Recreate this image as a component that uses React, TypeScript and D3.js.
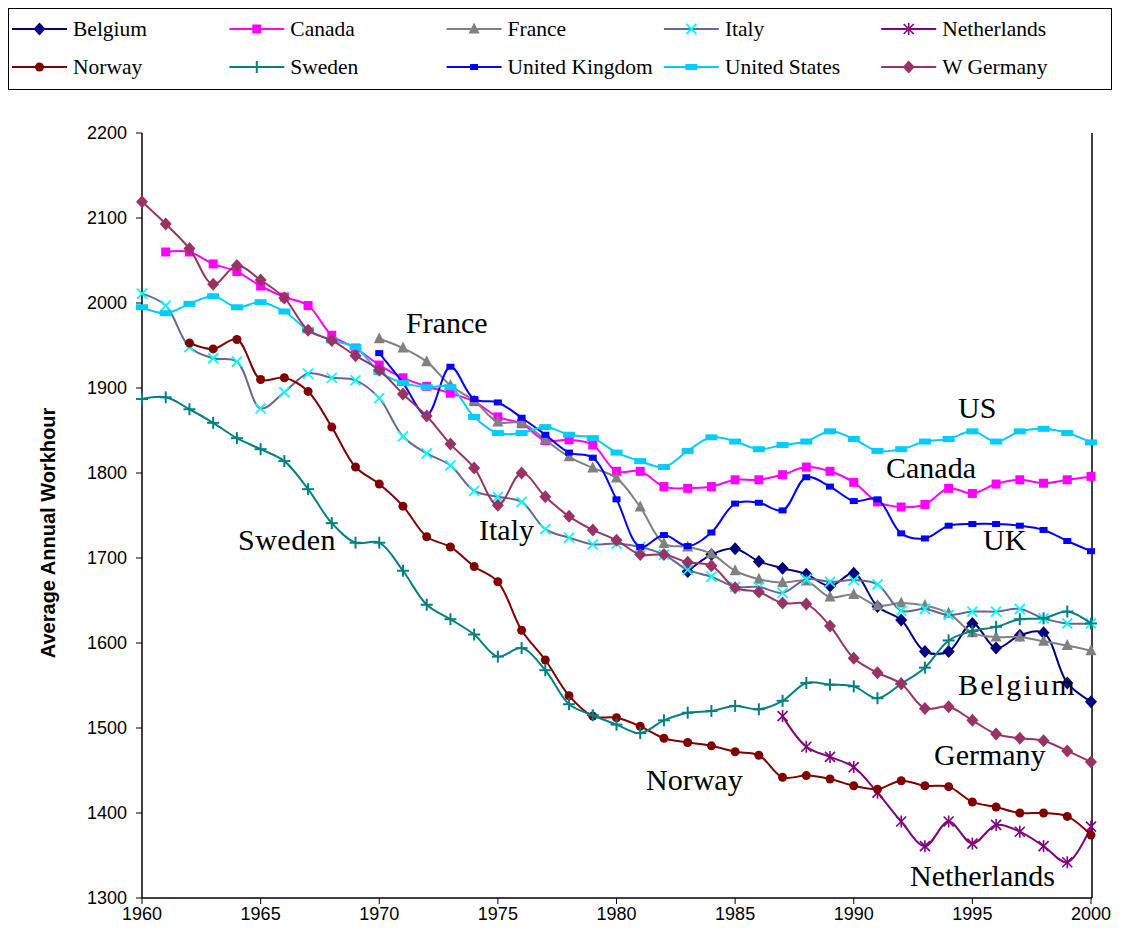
import React from "react";
import * as d3 from "d3";

const xTicks: number[] = [1960, 1965, 1970, 1975, 1980, 1985, 1990, 1995, 2000];
const yTicks: number[] = [1300, 1400, 1500, 1600, 1700, 1800, 1900, 2000, 2100, 2200];

const belgiumStart = 1983;
const belgium = [1684, 1704, 1711, 1696, 1688, 1681, 1667, 1682, 1643, 1627, 1590, 1590, 1623, 1594, 1609, 1612, 1553, 1531];
const canadaStart = 1961;
const canada = [2060, 2060, 2046, 2037, 2020, 2007, 1997, 1962, 1947, 1927, 1912, 1902, 1894, 1884, 1866, 1858, 1838, 1839, 1833, 1802, 1802, 1784, 1782, 1784, 1792, 1792, 1798, 1807, 1802, 1789, 1766, 1760, 1763, 1782, 1776, 1787, 1792, 1788, 1792, 1796];
const franceStart = 1970;
const france = [1958, 1947, 1931, 1903, 1885, 1860, 1859, 1839, 1819, 1806, 1794, 1760, 1717, 1713, 1705, 1685, 1675, 1671, 1673, 1654, 1657, 1644, 1647, 1644, 1635, 1612, 1607, 1607, 1602, 1597, 1591];
const italyStart = 1960;
const italy = [2011, 1997, 1948, 1935, 1931, 1876, 1895, 1917, 1912, 1909, 1888, 1843, 1823, 1809, 1779, 1772, 1766, 1734, 1724, 1716, 1717, 1713, 1704, 1686, 1678, 1666, 1666, 1659, 1675, 1672, 1674, 1669, 1638, 1640, 1633, 1637, 1637, 1640, 1629, 1623, 1623];
const netherlandsStart = 1987;
const netherlands = [1514, 1478, 1466, 1454, 1424, 1390, 1361, 1390, 1364, 1386, 1378, 1361, 1342, 1384];
const norwayStart = 1962;
const norway = [1953, 1946, 1957, 1910, 1912, 1896, 1854, 1807, 1787, 1761, 1725, 1713, 1690, 1672, 1615, 1580, 1538, 1514, 1512, 1502, 1488, 1483, 1479, 1472, 1468, 1442, 1444, 1440, 1432, 1428, 1438, 1432, 1431, 1413, 1407, 1400, 1400, 1396, 1374];
const swedenStart = 1960;
const sweden = [1887, 1889, 1875, 1859, 1841, 1828, 1814, 1781, 1741, 1718, 1718, 1685, 1645, 1628, 1610, 1584, 1594, 1568, 1528, 1515, 1504, 1494, 1509, 1518, 1520, 1526, 1522, 1532, 1553, 1551, 1549, 1535, 1552, 1571, 1603, 1614, 1619, 1628, 1629, 1637, 1623];
const ukStart = 1970;
const uk = [1941, 1906, 1868, 1925, 1887, 1883, 1865, 1845, 1824, 1818, 1769, 1713, 1727, 1714, 1730, 1764, 1765, 1756, 1795, 1784, 1767, 1769, 1729, 1723, 1738, 1740, 1740, 1738, 1733, 1720, 1708];
const usStart = 1960;
const us = [1995, 1988, 1999, 2008, 1995, 2001, 1990, 1968, 1956, 1948, 1919, 1906, 1901, 1901, 1866, 1847, 1847, 1854, 1845, 1841, 1824, 1814, 1807, 1826, 1842, 1837, 1828, 1833, 1837, 1849, 1840, 1826, 1828, 1837, 1840, 1849, 1837, 1849, 1852, 1847, 1836];
const wGermanyStart = 1960;
const wGermany = [2119, 2093, 2064, 2022, 2044, 2027, 2006, 1968, 1956, 1938, 1921, 1893, 1867, 1834, 1806, 1762, 1800, 1772, 1749, 1733, 1721, 1704, 1704, 1695, 1691, 1665, 1660, 1647, 1646, 1620, 1582, 1565, 1552, 1523, 1525, 1509, 1493, 1488, 1485, 1473, 1460];

type Series = { name: string; start: number; values: number[]; line: string; mark: string; shape: string };

const series: Series[] = [
  { name: "Belgium", start: belgiumStart, values: belgium, line: "#000080", mark: "#000080", shape: "diamond" },
  { name: "Canada", start: canadaStart, values: canada, line: "#FF00FF", mark: "#FF00FF", shape: "square" },
  { name: "France", start: franceStart, values: france, line: "#808080", mark: "#808080", shape: "triangle" },
  { name: "Italy", start: italyStart, values: italy, line: "#666699", mark: "#00FFFF", shape: "x" },
  { name: "Netherlands", start: netherlandsStart, values: netherlands, line: "#800080", mark: "#800080", shape: "star" },
  { name: "Norway", start: norwayStart, values: norway, line: "#800000", mark: "#800000", shape: "circle" },
  { name: "Sweden", start: swedenStart, values: sweden, line: "#008080", mark: "#008080", shape: "plus" },
  { name: "United Kingdom", start: ukStart, values: uk, line: "#0000FF", mark: "#0000FF", shape: "rectSmall" },
  { name: "United States", start: usStart, values: us, line: "#00CCFF", mark: "#00CCFF", shape: "rectWide" },
  { name: "W Germany", start: wGermanyStart, values: wGermany, line: "#993366", mark: "#993366", shape: "diamond" },
];

const labels = [
  { text: "France", x: 406, y: 333, ls: 0 },
  { text: "US", x: 958, y: 418, ls: 0 },
  { text: "Canada", x: 886, y: 478, ls: 0 },
  { text: "UK", x: 983, y: 550, ls: 0 },
  { text: "Sweden", x: 238, y: 550, ls: 0.5 },
  { text: "Italy", x: 479, y: 540, ls: 0 },
  { text: "Belgium", x: 958, y: 695, ls: 2.2 },
  { text: "Germany", x: 934, y: 765, ls: 0 },
  { text: "Norway", x: 646, y: 790, ls: 0 },
  { text: "Netherlands", x: 910, y: 886, ls: 0 },
];

function Marker({ shape, x, y, color }: { shape: string; x: number; y: number; color: string }) {
  switch (shape) {
    case "diamond":
      return <path d={`M${x},${y - 6.5}L${x + 6},${y}L${x},${y + 6.5}L${x - 6},${y}Z`} fill={color} />;
    case "square":
      return <rect x={x - 4.5} y={y - 4.5} width={9} height={9} fill={color} />;
    case "triangle":
      return <path d={`M${x},${y - 6.5}L${x + 5.5},${y + 4.5}L${x - 5.5},${y + 4.5}Z`} fill={color} />;
    case "x":
      return (
        <g stroke={color} strokeWidth={1.8}>
          <line x1={x - 5} y1={y - 5} x2={x + 5} y2={y + 5} />
          <line x1={x - 5} y1={y + 5} x2={x + 5} y2={y - 5} />
        </g>
      );
    case "star":
      return (
        <g stroke={color} strokeWidth={1.6}>
          <line x1={x - 5} y1={y - 5} x2={x + 5} y2={y + 5} />
          <line x1={x - 5} y1={y + 5} x2={x + 5} y2={y - 5} />
          <line x1={x} y1={y - 6} x2={x} y2={y + 6} />
        </g>
      );
    case "circle":
      return <circle cx={x} cy={y} r={4.5} fill={color} />;
    case "plus":
      return (
        <g stroke={color} strokeWidth={2}>
          <line x1={x - 6} y1={y} x2={x + 6} y2={y} />
          <line x1={x} y1={y - 6} x2={x} y2={y + 6} />
        </g>
      );
    case "rectSmall":
      return <rect x={x - 4} y={y - 3} width={8} height={6} fill={color} />;
    case "rectWide":
      return <rect x={x - 6} y={y - 3} width={12} height={6} fill={color} />;
    default:
      return null;
  }
}

export default function App() {
  const W = 1122, H = 943;
  const x = d3.scaleLinear().domain([1960, 2000]).range([142, 1091]);
  const y = d3.scaleLinear().domain([1300, 2200]).range([898, 133]);
  const line = d3
    .line<[number, number]>()
    .x((d) => x(d[0]))
    .y((d) => y(d[1]))
    .curve(d3.curveCatmullRom.alpha(0.5));

  const serif = "'Liberation Serif', 'Times New Roman', serif";
  const sans = "'Liberation Sans', Arial, sans-serif";

  const colW = 217.3;

  return (
    <svg width={W} height={H} style={{ position: "absolute", left: 0, top: 0, background: "#fff" }}>
      <rect x={0} y={0} width={W} height={H} fill="#fff" />
      {/* Legend */}
      <rect x={8.5} y={8.5} width={1103} height={81} fill="none" stroke="#000" strokeWidth={1} />
      {series.map((s, i) => {
        const col = i % 5;
        const row = Math.floor(i / 5);
        const lx = 12 + col * colW;
        const ly = row === 0 ? 29 : 67;
        return (
          <g key={s.name}>
            <line x1={lx} y1={ly} x2={lx + 55} y2={ly} stroke={s.line} strokeWidth={2} />
            <Marker shape={s.shape} x={lx + 27.5} y={ly} color={s.mark} />
            <text x={lx + 61} y={ly + 7} fontFamily={serif} fontSize={21.5} fill="#000">
              {s.name}
            </text>
          </g>
        );
      })}

      {/* Axes */}
      <line x1={142} y1={133} x2={142} y2={898} stroke="#000" strokeWidth={1.5} />
      <line x1={142} y1={898} x2={1092} y2={898} stroke="#000" strokeWidth={1.5} />
      <line x1={1092} y1={133} x2={1092} y2={898} stroke="#000" strokeWidth={1.5} />
      {yTicks.map((t) => (
        <g key={t}>
          <line x1={136} y1={y(t)} x2={142} y2={y(t)} stroke="#000" strokeWidth={1} />
          <text x={127} y={y(t)} dy="0.35em" textAnchor="end" fontFamily={sans} fontSize={18} fill="#000">
            {t}
          </text>
        </g>
      ))}
      {xTicks.map((t) => (
        <g key={t}>
          <line x1={x(t)} y1={898} x2={x(t)} y2={904} stroke="#000" strokeWidth={1} />
          <text x={x(t)} y={920} textAnchor="middle" fontFamily={sans} fontSize={18} fill="#000">
            {t}
          </text>
        </g>
      ))}
      <text
        transform="translate(55,533) rotate(-90)"
        textAnchor="middle"
        fontFamily={sans}
        fontWeight="bold"
        fontSize={20}
        fill="#000"
      >
        Average Annual Workhour
      </text>

      {/* Series */}
      {series.map((s) => {
        const pts: [number, number][] = s.values.map((v, i) => [s.start + i, v]);
        return (
          <g key={s.name}>
            <path d={line(pts) || ""} fill="none" stroke={s.line} strokeWidth={2} />
            {pts.map((p) => (
              <Marker key={p[0]} shape={s.shape} x={x(p[0])} y={y(p[1])} color={s.mark} />
            ))}
          </g>
        );
      })}

      {/* In-chart labels */}
      {labels.map((l) => (
        <text key={l.text} x={l.x} y={l.y} fontFamily={serif} fontSize={30} letterSpacing={l.ls} fill="#000">
          {l.text}
        </text>
      ))}
    </svg>
  );
}
